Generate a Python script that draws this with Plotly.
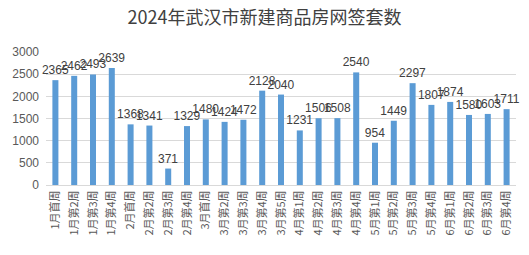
import plotly.graph_objects as go

categories = ["1月首周", "1月第2周", "1月第3周", "1月第4周", "2月首周", "2月第2周", "2月第3周", "2月第4周",
              "3月首周", "3月第2周", "3月第3周", "3月第4周", "3月第5周", "4月第1周", "4月第2周", "4月第3周",
              "4月第4周", "5月第1周", "5月第2周", "5月第3周", "5月第4周", "6月第1周", "6月第2周", "6月第3周", "6月第4周"]
values = [2365, 2462, 2493, 2639, 1368, 1341, 371, 1329, 1480, 1424, 1472, 2128, 2040, 1231, 1506, 1508,
          2540, 954, 1449, 2297, 1807, 1874, 1580, 1603, 1711]
y_ticks = [0, 500, 1000, 1500, 2000, 2500, 3000]

fig = go.Figure(go.Bar(
    x=categories, y=values, text=[str(v) for v in values], textposition="outside",
    constraintext="none", cliponaxis=False,
    textfont=dict(family="Liberation Sans, Arial, sans-serif", size=12, color="#404040"),
    marker=dict(color="#5B9BD5", line=dict(width=0)),
))
fig.update_layout(
    width=529, height=255, margin=dict(l=43, r=13, t=52, b=70),
    paper_bgcolor="white", plot_bgcolor="white", bargap=0.68, showlegend=False,
    title=dict(text="2024年武汉市新建商品房网签套数", x=0.5, xanchor="center", y=0.93, yanchor="middle",
               font=dict(family="Noto Sans CJK SC", size=18, color="#404040")),
    font=dict(family="Liberation Sans, Arial, sans-serif", color="#595959"),
)
fig.update_xaxes(tickangle=-90, tickfont=dict(family="Noto Sans CJK SC", size=11, color="#595959"),
                 showline=True, linecolor="#D9D9D9", linewidth=1, ticks="", showgrid=False)
fig.update_yaxes(range=[0, 3000], tickvals=y_ticks, tickfont=dict(size=12, color="#595959"),
                 showgrid=True, gridcolor="#D9D9D9", gridwidth=1, zeroline=False, ticks="", ticklabelstandoff=6)
fig.write_html("out.html")
